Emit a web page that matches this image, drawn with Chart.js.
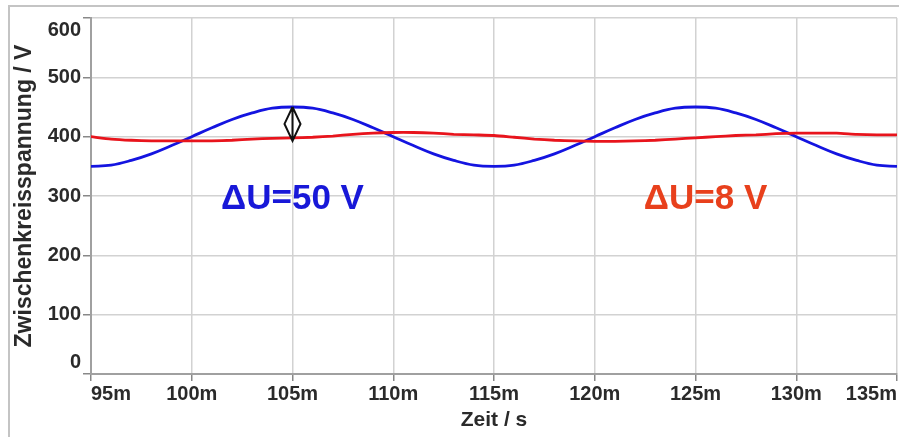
<!DOCTYPE html>
<html>
<head>
<meta charset="utf-8">
<script src="https://cdn.jsdelivr.net/npm/chart.js@4/dist/chart.umd.min.js"></script>
<style>
    html, body { margin: 0; padding: 0; background: #fff; }
    #wrap { position: relative; width: 899px; height: 437px; overflow: hidden; }
    #frame { position: absolute; left: 8px; top: 5px; width: 900px; height: 440px;
             border-left: 2px solid #c4c4c4; border-top: 2px solid #c4c4c4; }
    canvas { position: absolute; left: 0; top: 0; }
</style>
</head>
<body>
<div id="wrap">
    <div id="frame"></div>
    <canvas id="chart" width="899" height="437"></canvas>
</div>
<script>
// time in ms (axis labelled in s with "m" prefix)
const timeMs = [95, 96, 97, 98, 99, 100, 101, 102, 103, 104, 105, 106, 107, 108, 109, 110, 111, 112, 113, 114,
    115, 116, 117, 118, 119, 120, 121, 122, 123, 124, 125, 126, 127, 128, 129, 130, 131, 132, 133, 134, 135];

// blue trace, large ripple (ΔU = 50 V)
const blueVolts = [350, 352, 360, 371, 385, 400, 415, 429, 440, 448, 450, 448, 440, 429, 415, 400, 385, 371, 360, 352,
    350, 352, 360, 371, 385, 400, 415, 429, 440, 448, 450, 448, 440, 429, 415, 400, 385, 371, 360, 352, 350];

// red trace, small ripple (ΔU = 8 V)
const redVolts = [400, 396, 394, 393, 393, 393, 393, 394, 396, 397, 398, 399, 401, 404, 406, 407, 407, 406, 404, 403,
    402, 399, 396, 394, 393, 392, 392, 393, 394, 396, 398, 400, 402, 403, 405, 406, 406, 406, 404, 403, 403];

const xTicks = [95, 100, 105, 110, 115, 120, 125, 130, 135];
const yTicks = [0, 100, 200, 300, 400, 500, 600];

// annotations: [text, x (ms), y (V), colour]
const notes = [
    ['\u0394U=50 V', 105, 295, '#1818d8'],
    ['\u0394U=8 V', 125.5, 295, '#e8401c'],
];
// double arrow at 105 ms from 450 V down to 393 V
const arrowAt = 105;
const arrowFrom = 450;
const arrowTo = 393;

const FONT = "'Liberation Sans', Arial, sans-serif";

const annotate = {
    id: 'annotate',
    afterDatasetsDraw(chart) {
        const { ctx, scales: { x, y } } = chart;
        ctx.save();
        ctx.font = `bold 35px ${FONT}`;
        ctx.textAlign = 'center';
        ctx.textBaseline = 'middle';
        notes.forEach(([txt, tx, ty, col]) => {
            ctx.fillStyle = col;
            ctx.fillText(txt, x.getPixelForValue(tx), y.getPixelForValue(ty));
        });

        const ax = x.getPixelForValue(arrowAt);
        const y1 = y.getPixelForValue(arrowFrom);
        const y2 = y.getPixelForValue(arrowTo);
        const ym = (y1 + y2) / 2;
        ctx.strokeStyle = '#111';
        ctx.lineWidth = 2;
        ctx.beginPath();
        ctx.moveTo(ax, y1);
        ctx.lineTo(ax, y2);
        ctx.moveTo(ax, y1);
        ctx.lineTo(ax - 8, ym);
        ctx.lineTo(ax, y2);
        ctx.lineTo(ax + 8, ym);
        ctx.lineTo(ax, y1);
        ctx.stroke();
        ctx.restore();
    }
};

function toPoints(values) {
    return timeMs.map((t, i) => ({ x: t, y: values[i] }));
}

new Chart(document.getElementById('chart'), {
    type: 'line',
    data: {
        datasets: [
            {
                data: toPoints(redVolts),
                borderColor: '#e8141c',
                borderWidth: 2.8,
                pointRadius: 0,
                tension: 0.2,
            },
            {
                data: toPoints(blueVolts),
                borderColor: '#1414e0',
                borderWidth: 2.8,
                pointRadius: 0,
                tension: 0.4,
            },
        ]
    },
    options: {
        responsive: false,
        animation: false,
        layout: { padding: { top: 18, right: 2, left: 0, bottom: 0 } },
        plugins: {
            legend: { display: false },
            tooltip: { enabled: false },
        },
        scales: {
            x: {
                type: 'linear',
                min: 95,
                max: 135,
                afterFit: (s) => { s.height = 63; },
                afterBuildTicks: (s) => { s.ticks = xTicks.map(v => ({ value: v })); },
                grid: { color: '#d2d2d2', lineWidth: 1.5, tickColor: '#888', tickLength: 7 },
                border: { color: '#a0a0a0', width: 2 },
                ticks: {
                    color: '#2a2a2a',
                    font: { family: FONT, size: 20, weight: 'bold' },
                    padding: 1,
                    align: 'inner',
                    maxRotation: 0,
                    callback: (v) => v + 'm',
                },
                title: {
                    display: true,
                    text: 'Zeit / s',
                    color: '#2a2a2a',
                    font: { family: FONT, size: 21, weight: 'bold' },
                    padding: { top: 0, bottom: 4 },
                },
            },
            y: {
                min: 0,
                max: 600,
                afterFit: (s) => {
                    s.width = 91;
                    s.paddingTop = 0;
                    s.paddingBottom = 0;
                },
                afterBuildTicks: (s) => { s.ticks = yTicks.map(v => ({ value: v })); },
                grid: { color: '#d2d2d2', lineWidth: 1.5, tickColor: '#888', tickLength: 8 },
                border: { color: '#a0a0a0', width: 2 },
                ticks: {
                    color: '#2a2a2a',
                    font: { family: FONT, size: 20, weight: 'bold' },
                    padding: 2,
                    // end labels pulled inside the plot height, as in the original
                    callback: (v) => v === 0 ? ['0', ''] : v === 600 ? ['', '600'] : String(v),
                },
                title: {
                    display: true,
                    text: 'Zwischenkreisspannung / V',
                    color: '#2a2a2a',
                    font: { family: FONT, size: 23, weight: 'bold' },
                    padding: { top: 11, bottom: 0 },
                },
            },
        },
    },
    plugins: [annotate],
});
</script>
</body>
</html>
